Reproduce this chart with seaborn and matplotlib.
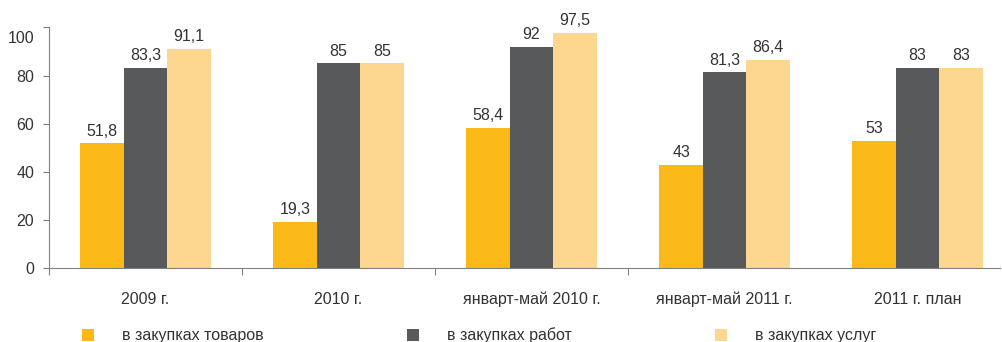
import matplotlib
matplotlib.use("Agg")
import matplotlib.pyplot as plt
import matplotlib.transforms as mtransforms
import numpy as np
import pandas as pd
import seaborn as sns

# Share of competitive procurement, %
categories = ["2009 г.", "2010 г.", "январт-май 2010 г.", "январт-май 2011 г.", "2011 г. план"]
series = ["в закупках товаров", "в закупках работ", "в закупках услуг"]
goods = [51.8, 19.3, 58.4, 43, 53]
works = [83.3, 85, 92, 81.3, 83]
services = [91.1, 85, 97.5, 86.4, 83]
y_ticks = [0, 20, 40, 60, 80, 100]

colors = ["#FBB819", "#58595B", "#FDD690"]
text_color = "#333333"
axis_color = "#808080"

df = pd.DataFrame({
    "category": categories * 3,
    "series": [series[0]] * 5 + [series[1]] * 5 + [series[2]] * 5,
    "value": goods + works + services,
})

sns.set_theme(style="white")
plt.rcParams["font.family"] = ["Liberation Sans", "DejaVu Sans"]
plt.rcParams["font.size"] = 11.5

fig = plt.figure(figsize=(10.02, 3.42), dpi=100)
ax = fig.add_axes([49 / 1002, 1 - 268.3 / 342, (1000 - 49) / 1002, 241 / 342])

sns.barplot(data=df, x="category", y="value", hue="series", order=categories,
            hue_order=series, palette=colors, width=0.675, gap=0,
            saturation=1, linewidth=0, ax=ax, legend=True)

def fmt(v):
    return f"{v:g}".replace(".", ",")

for cont, vals in zip(ax.containers, [goods, works, services]):
    ax.bar_label(cont, labels=[fmt(v) for v in vals], padding=3.5,
                 color=text_color, fontsize=11.5, clip_on=False)

ax.set_xlim(-0.5, 4.427)
ax.set_ylim(0, 100)
ax.set_xlabel("")
ax.set_ylabel("")

ax.set_yticks(y_ticks)
ax.set_yticklabels([str(t) for t in y_ticks])
ax.tick_params(axis="y", which="major", direction="out", length=4.3, width=0.8,
               color=axis_color, pad=6.3, labelcolor=text_color, labelsize=11.5, left=True)

ax.set_xticks(np.arange(len(categories)))
ax.set_xticks(np.arange(len(categories) - 1) - 0.5, minor=True)
ax.tick_params(axis="x", which="major", length=0, pad=17, labelcolor=text_color,
               labelsize=11.5)
ax.tick_params(axis="x", which="minor", direction="out", length=5, width=0.8,
               color=axis_color, bottom=True)

for side in ["top", "right"]:
    ax.spines[side].set_visible(False)
for side in ["left", "bottom"]:
    ax.spines[side].set_color(axis_color)
    ax.spines[side].set_linewidth(0.8)

# nudge the top tick label below the axis end
top_tick = ax.yaxis.get_major_ticks()[-1]
top_tick.label1.set_transform(top_tick.label1.get_transform()
                              + mtransforms.ScaledTranslation(0, -7.2 / 72, fig.dpi_scale_trans))

handles, labels = ax.get_legend_handles_labels()
ax.get_legend().remove()
leg = fig.legend(handles, labels, loc="lower left", bbox_to_anchor=(72 / 1002, -0.032),
                 ncol=3, frameon=False, handlelength=0.75, handleheight=0.75,
                 handletextpad=1.75, columnspacing=9.0, fontsize=11.5,
                 borderaxespad=0.2)
for t in leg.get_texts():
    t.set_color(text_color)

fig.savefig("out.png", dpi=100)
